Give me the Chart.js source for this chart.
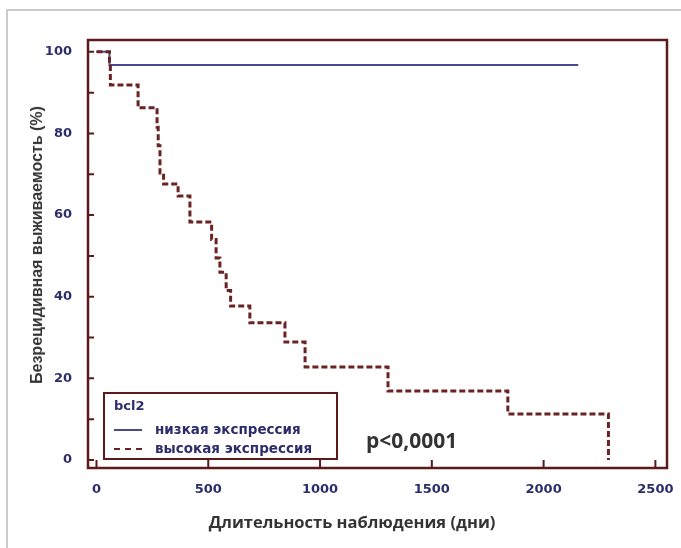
<!DOCTYPE html>
<html>
<head>
<meta charset="utf-8">
<script src="https://cdn.jsdelivr.net/npm/chart.js@4"></script>
<style>
  body { margin: 0; background: #fff; }
  #wrap { position: relative; width: 681px; height: 548px; overflow: hidden; font-family: "Liberation Sans", Arial, sans-serif; }
  #frame { position: absolute; left: 6px; top: 9px; right: -4px; bottom: -4px; border-left: 2px solid #cbcbcb; border-top: 2px solid #cbcbcb; }
  canvas { position: absolute; left: 0; top: 0; }
  .ttl { position: absolute; font-weight: bold; color: #333; white-space: nowrap; }
  #ytitle { left: 37px; top: 245px; font-size: 16px; transform: translate(-50%, -50%) rotate(-90deg); }
  #xtitle { left: 352px; top: 521px; font-size: 16.5px; transform: translate(-50%, -50%); font-family: "Open Sans", sans-serif; }
  #pval { left: 366px; top: 426px; font-size: 21px; font-family: "Open Sans", sans-serif; }
  #legend { position: absolute; left: 103px; top: 392px; width: 231px; height: 64px; border: 2px solid #5c1a1a; background: #fff; color: #2d2d6b; font-weight: bold; font-family: "DejaVu Sans", sans-serif; }
  #legend .head { position: absolute; left: 9px; top: 4px; font-size: 13px; }
  #legend .row { position: absolute; left: 9px; height: 18px; font-size: 13.5px; line-height: 18px; }
  #legend .row span.sw { position: absolute; left: 0; top: 9px; width: 28px; }
  #legend .row span.tx { position: absolute; left: 41px; top: 0; white-space: nowrap; }
</style>
</head>
<body>
<div id="wrap">
  <div id="frame"></div>
  <canvas id="km" width="681" height="548"></canvas>
  <div id="ytitle" class="ttl">Безрецидивная выживаемость (%)</div>
  <div id="xtitle" class="ttl">Длительность наблюдения (дни)</div>
  <div id="pval" class="ttl">p&lt;0,0001</div>
  <div id="legend"><div class="head">bcl2</div></div>
</div>
<script>
// Kaplan-Meier curves
const groupNames = ["низкая экспрессия", "высокая экспрессия"];
const timeLow = [0, 58, 2155];
const survLow = [100, 96.8, 96.8];
const timeHigh = [0, 58, 62, 186, 271, 276, 284, 300, 365, 418, 515, 535, 552, 580, 600, 686, 843, 933, 1304, 1840, 2290];
const survHigh = [100, 96.8, 91.9, 86.3, 81.5, 77, 70.3, 67.6, 64.7, 58.3, 54, 49.5, 46, 41.5, 37.7, 33.6, 28.9, 22.8, 16.9, 11.3, 0];
const xTicks = [0, 500, 1000, 1500, 2000, 2500];
const yTicks = [0, 20, 40, 60, 80, 100];

const frameColor = "#5c1a1a";
const lowColor = "#4a4a8e";
const highColor = "#6b2222";
const tickColor = "#2d2d6b";

function toPoints(xs, ys) {
  return xs.map((x, i) => ({ x: x, y: ys[i] }));
}

// frame round the plot and ticks pointing inward
const framePlugin = {
  id: "frame",
  afterDatasetsDraw(chart) {
    const { ctx, chartArea: a, scales } = chart;
    ctx.save();
    ctx.strokeStyle = frameColor;
    ctx.lineWidth = 2.5;
    ctx.strokeRect(a.left, a.top, a.right - a.left, a.bottom - a.top);
    ctx.lineWidth = 2;
    ctx.beginPath();
    scales.x.ticks.forEach((t) => {
      const px = scales.x.getPixelForValue(t.value);
      ctx.moveTo(px, a.bottom);
      ctx.lineTo(px, a.bottom - 8);
    });
    scales.y.ticks.forEach((t) => {
      const py = scales.y.getPixelForValue(t.value);
      ctx.moveTo(a.left, py);
      ctx.lineTo(a.left + 6, py);
    });
    ctx.stroke();
    ctx.restore();
  },
};

const chart = new Chart(document.getElementById("km"), {
  type: "line",
  data: {
    datasets: [
      {
        label: groupNames[1],
        data: toPoints(timeHigh, survHigh),
        borderColor: highColor,
        borderWidth: 3,
        borderDash: [6, 3],
        stepped: true,
        pointRadius: 0,
        order: 0,
      },
      {
        label: groupNames[0],
        data: toPoints(timeLow, survLow),
        borderColor: lowColor,
        borderWidth: 2,
        stepped: true,
        pointRadius: 0,
        order: 1,
      },
    ],
  },
  options: {
    responsive: false,
    animation: false,
    devicePixelRatio: 1,
    layout: { padding: { left: 0, top: 40, right: 14, bottom: 50 } },
    plugins: { legend: { display: false }, tooltip: { enabled: false } },
    scales: {
      x: {
        type: "linear",
        min: -38,
        max: 2552,
        afterFit: (s) => { s.height = 30; },
        afterBuildTicks: (s) => { s.ticks = xTicks.map((v) => ({ value: v })); },
        grid: { display: false },
        border: { display: false },
        ticks: {
          padding: 6,
          color: tickColor,
          font: { family: "DejaVu Sans", size: 13, weight: "bold" },
          callback: (v) => String(v),
        },
      },
      y: {
        min: -1.96,
        max: 102.9,
        afterFit: (s) => { s.width = 88; },
        afterBuildTicks: (s) => {
          const t = [];
          for (let v = 0; v <= 100; v += 10) t.push({ value: v });
          s.ticks = t;
        },
        grid: { display: false },
        border: { display: false },
        ticks: {
          padding: 8,
          color: tickColor,
          font: { family: "DejaVu Sans", size: 13, weight: "bold" },
          callback: (v) => (yTicks.includes(v) ? String(v) : ""),
        },
      },
    },
  },
  plugins: [framePlugin],
});

// legend box built from the datasets
const legend = document.getElementById("legend");
[1, 0].forEach((di, row) => {
  const ds = chart.data.datasets[di];
  const r = document.createElement("div");
  r.className = "row";
  r.style.top = 26 + row * 19 + "px";
  const sw = document.createElement("span");
  sw.className = "sw";
  sw.style.borderTop = ds.borderDash ? "2px dashed " + ds.borderColor : "2px solid " + ds.borderColor;
  const tx = document.createElement("span");
  tx.className = "tx";
  tx.textContent = ds.label;
  r.appendChild(sw);
  r.appendChild(tx);
  legend.appendChild(r);
});
</script>
</body>
</html>
